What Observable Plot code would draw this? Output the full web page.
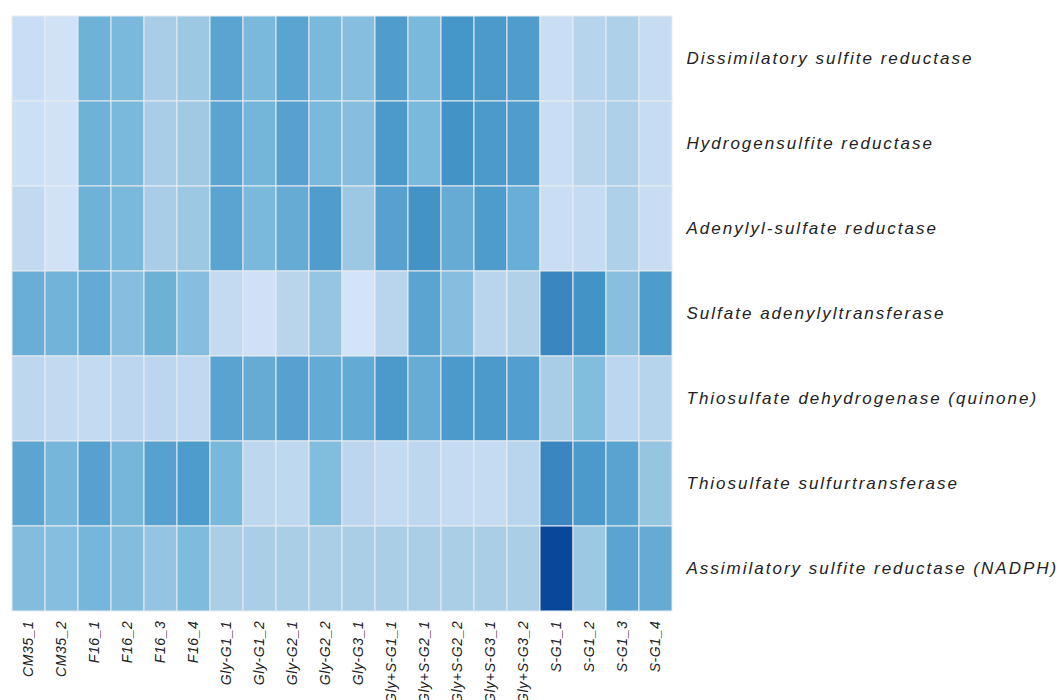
<!DOCTYPE html>
<html>
<head>
<meta charset="utf-8">
<script src="https://cdn.jsdelivr.net/npm/d3@7"></script>
<script src="https://cdn.jsdelivr.net/npm/@observablehq/plot@0.6"></script>
<style>
  html, body { margin: 0; padding: 0; background: #fff; overflow: hidden; }
  #chart svg { display: block; }
  #chart g[aria-label="y-axis tick label"] text { letter-spacing: 2px; }
  #chart g[aria-label="x-axis tick label"] text { letter-spacing: 0.6px; }
</style>
</head>
<body>
<div id="chart"></div>
<script>
const samples = ["CM35_1","CM35_2","F16_1","F16_2","F16_3","F16_4",
  "Gly-G1_1","Gly-G1_2","Gly-G2_1","Gly-G2_2","Gly-G3_1",
  "Gly+S-G1_1","Gly+S-G2_1","Gly+S-G2_2","Gly+S-G3_1","Gly+S-G3_2",
  "S-G1_1","S-G1_2","S-G1_3","S-G1_4"];

const genes = ["Dissimilatory sulfite reductase","Hydrogensulfite reductase",
  "Adenylyl-sulfate reductase","Sulfate adenylyltransferase",
  "Thiosulfate dehydrogenase (quinone)","Thiosulfate sulfurtransferase",
  "Assimilatory sulfite reductase (NADPH)"];

const dissimilatory   = [1.0,0.5,5.5,5.0,3.0,3.5,6.5,5.0,6.5,5.0,4.5,7.0,5.0,7.5,7.2,7.0,1.0,2.2,2.7,1.2];
const hydrogensulfite = [0.9,0.5,5.5,5.0,3.0,3.4,6.5,5.3,6.7,5.0,4.5,7.2,5.0,7.6,7.2,7.0,1.0,2.1,2.6,1.2];
const adenylyl        = [1.5,0.5,5.5,5.0,3.0,3.5,6.5,5.0,6.0,7.0,3.5,6.7,7.6,6.0,7.1,5.8,1.0,1.3,2.7,1.1];
const adenylyltrans   = [5.8,5.4,6.1,4.5,5.6,4.5,1.4,0.6,2.1,3.8,0.4,2.0,6.5,4.5,2.0,2.5,8.0,7.6,4.4,7.1];
const thioDehydrog    = [1.8,1.5,1.4,1.9,1.9,1.6,6.6,6.0,6.7,6.1,6.1,7.2,5.9,7.2,7.2,6.9,3.0,4.6,1.9,2.2];
const thioSulfurtr    = [6.4,5.2,6.7,5.2,6.7,7.1,5.1,1.8,1.7,4.6,1.9,1.4,1.8,1.3,1.3,2.0,8.0,7.2,6.6,3.8];
const assimilatory    = [4.6,4.5,5.2,4.6,3.9,4.8,2.9,2.9,2.9,2.9,2.9,2.9,2.9,2.9,2.9,2.9,10.0,3.5,6.5,6.0];

const seriesByGene = [dissimilatory, hydrogensulfite, adenylyl, adenylyltrans, thioDehydrog, thioSulfurtr, assimilatory];

const table = [];
genes.forEach((g, i) => samples.forEach((s, j) => table.push({gene: g, sample: s, value: seriesByGene[i][j]})));

const chart = Plot.plot({
  width: 1059,
  height: 700,
  marginLeft: 12,
  marginRight: 387,
  marginTop: 14,
  marginBottom: 88,
  style: { fontFamily: "Liberation Sans, Arial, sans-serif", background: "#fff", overflow: "visible" },
  x: { domain: samples, padding: 0, label: null, tickSize: 0, tickRotate: -90, tickPadding: 8 },
  y: { domain: genes, padding: 0, label: null, tickSize: 0, axis: null },
  color: {
    type: "linear",
    domain: [0.4, 3, 5, 7.5, 10],
    range: ["#d3e3f8", "#a9cde6", "#7ab9dc", "#4596c9", "#08479a"],
    interpolate: "rgb"
  },
  marks: [
    Plot.cell(table, { x: "sample", y: "gene", fill: "value", stroke: "#e8ecef", strokeWidth: 1 }),
    Plot.axisX({ domain: samples, tickSize: 0, tickRotate: -90, tickPadding: 8, label: null, fontSize: 14, fontStyle: "italic", fill: "#222" }),
    Plot.axisY({ anchor: "right", tickSize: 0, tickPadding: 14, label: null, fontSize: 17, fontStyle: "italic", fill: "#222" })
  ]
});
document.getElementById("chart").appendChild(chart);
</script>
</body>
</html>
